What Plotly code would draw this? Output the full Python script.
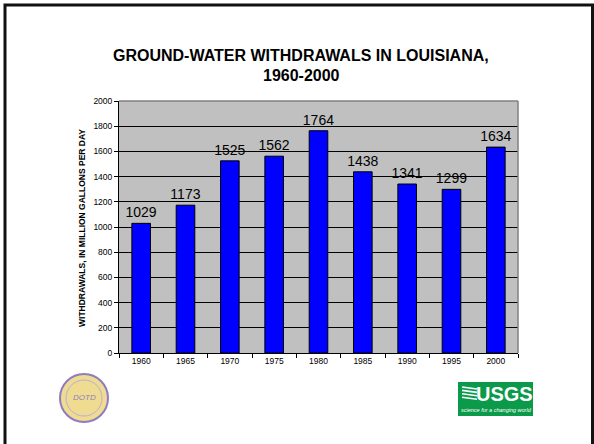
import plotly.graph_objects as go

# Ground-water withdrawals in Louisiana, million gallons per day
years = ["1960", "1965", "1970", "1975", "1980", "1985", "1990", "1995", "2000"]
withdrawals = [1029, 1173, 1525, 1562, 1764, 1438, 1341, 1299, 1634]
y_ticks = [0, 200, 400, 600, 800, 1000, 1200, 1400, 1600, 1800, 2000]

W, H = 594, 444
L, R, T, B = 119, 518, 101, 353  # plot area in pixels


def fx(px):
    return (px - L) / (R - L)


def fy(py):
    return (B - py) / (B - T)


FONT = "Liberation Sans, Arial, sans-serif"

fig = go.Figure(
    go.Bar(
        x=years,
        y=withdrawals,
        width=0.42,
        marker=dict(color="#0000FF", line=dict(color="black", width=1)),
        text=[str(v) for v in withdrawals],
        textposition="outside",
        constraintext="none",
        textfont=dict(family=FONT, size=14, color="black"),
        cliponaxis=False,
    )
)

fig.update_layout(
    width=W,
    height=H,
    margin=dict(l=L, r=W - R, t=T, b=H - B),
    paper_bgcolor="white",
    plot_bgcolor="#C0C0C0",
    showlegend=False,
    font=dict(family=FONT, color="black"),
)

fig.update_xaxes(
    type="category",
    range=[-0.5, 8.5],
    tickson="boundaries",
    ticks="outside",
    ticklen=4,
    tickcolor="black",
    showline=True,
    linecolor="black",
    linewidth=1,
    showgrid=False,
    tickfont=dict(family=FONT, size=8.5, color="black"),
    fixedrange=True,
)
fig.update_yaxes(
    range=[0, 2000],
    tickvals=y_ticks,
    ticks="outside",
    ticklen=4,
    tickcolor="black",
    showline=True,
    linecolor="black",
    linewidth=1,
    showgrid=True,
    gridcolor="black",
    gridwidth=1,
    zeroline=False,
    tickfont=dict(family=FONT, size=8.5, color="black"),
    fixedrange=True,
)

shapes = []
# gray border on the top and right of the plot area
shapes.append(dict(type="line", xref="paper", yref="paper", x0=0, x1=1, y0=1, y1=1,
                   line=dict(color="#808080", width=1.5)))
shapes.append(dict(type="line", xref="paper", yref="paper", x0=1, x1=1, y0=0, y1=1,
                   line=dict(color="#808080", width=1.5)))
# outer frame of the slide
shapes.append(dict(type="rect", xref="paper", yref="paper",
                   x0=fx(5), x1=fx(592.5), y0=fy(5), y1=fy(450),
                   line=dict(color="#111111", width=3), layer="above"))

# DOTD seal
shapes.append(dict(type="circle", xref="paper", yref="paper",
                   x0=fx(60), x1=fx(108), y0=fy(374), y1=fy(422),
                   fillcolor="#F0DC90", line=dict(color="#8E7CC3", width=2)))
shapes.append(dict(type="circle", xref="paper", yref="paper",
                   x0=fx(66), x1=fx(102), y0=fy(380), y1=fy(416),
                   fillcolor="rgba(0,0,0,0)", line=dict(color="#B8AEDC", width=1)))
# USGS badge
shapes.append(dict(type="rect", xref="paper", yref="paper",
                   x0=fx(458), x1=fx(533), y0=fy(382), y1=fy(416),
                   fillcolor="#0A9A4A", line=dict(width=0)))
for i in range(4):
    yy = 387 + i * 3.4
    shapes.append(dict(type="line", xref="paper", yref="paper",
                       x0=fx(462), x1=fx(477), y0=fy(yy), y1=fy(yy + 2),
                       line=dict(color="white", width=1.6)))


def note(text, px, py, size, color="black", angle=0):
    return dict(text=text, xref="paper", yref="paper", x=fx(px), y=fy(py),
                xanchor="center", yanchor="middle", textangle=angle,
                showarrow=False, font=dict(family=FONT, size=size, color=color))


annotations = [
    note("<b>GROUND-WATER WITHDRAWALS IN LOUISIANA,</b>", 301, 56, 16),
    note("<b>1960-2000</b>", 301, 76, 16),
    note("<b>WITHDRAWALS, IN MILLION GALLONS PER DAY</b>", 82, 228, 8.5, angle=-90),
    note("<i>DOTD</i>", 84, 397, 8, "#8E7CC3"),
    note("<b>USGS</b>", 504, 394, 20, "white"),
    note("<i>science for a changing world</i>", 496, 410, 5.5, "white"),
]

fig.update_layout(shapes=shapes, annotations=annotations)

fig.write_html("out.html", config=dict(displayModeBar=False))
